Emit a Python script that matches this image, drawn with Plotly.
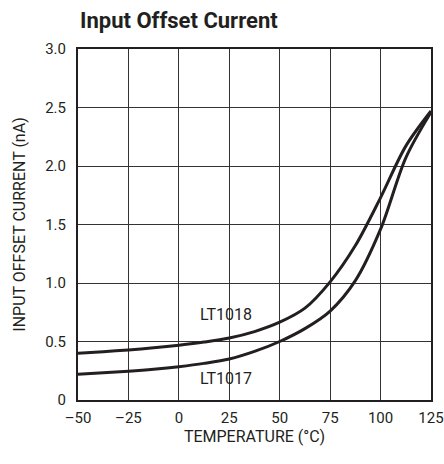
import plotly.graph_objects as go

temp = [-50, -37.5, -25, -12.5, 0, 12.5, 25, 37.5, 50, 62.5, 75, 87.5, 100, 112.5, 125]
lt1018 = [0.40, 0.413, 0.428, 0.446, 0.468, 0.495, 0.53, 0.585, 0.665, 0.785, 1.01, 1.32, 1.73, 2.17, 2.47]
lt1017 = [0.22, 0.232, 0.246, 0.263, 0.285, 0.313, 0.35, 0.415, 0.50, 0.61, 0.76, 1.02, 1.46, 2.07, 2.46]

x_ticks = [-50, -25, 0, 25, 50, 75, 100, 125]
x_tick_text = ["\u201350", "\u201325", "0", "25", "50", "75", "100", "125"]
y_ticks = [0, 0.5, 1.0, 1.5, 2.0, 2.5, 3.0]
y_tick_text = ["0", "0.5", "1.0", "1.5", "2.0", "2.5", "3.0"]

FONT = "Roboto, Liberation Sans, sans-serif"
INK = "#231f20"

fig = go.Figure()
for name, vals in [("LT1018", lt1018), ("LT1017", lt1017)]:
    fig.add_trace(go.Scatter(x=temp, y=vals, mode="lines", name=name,
                             line=dict(color=INK, width=3, shape="spline", smoothing=0.9),
                             showlegend=False, hoverinfo="skip"))

fig.add_annotation(x=23.5, y=0.73, text="LT1018", showarrow=False,
                   font=dict(family=FONT, size=16, color=INK))
fig.add_annotation(x=23.5, y=0.18, text="LT1017", showarrow=False,
                   font=dict(family=FONT, size=16, color=INK))

fig.update_layout(
    width=444, height=464,
    margin=dict(l=78, r=13, t=49, b=64),
    paper_bgcolor="white", plot_bgcolor="white",
    font=dict(family=FONT, size=15, color=INK),
    title=dict(text="<b>Input Offset Current</b>", x=80/444, xanchor="left",
               y=1 - 20/464, yanchor="middle",
               font=dict(family=FONT, size=22, color=INK)),
)
fig.update_xaxes(range=[-50, 125], tickvals=x_ticks, ticktext=x_tick_text,
                 automargin=False,
                 showgrid=True, gridcolor="#333333", gridwidth=1,
                 showline=True, mirror=True, linecolor=INK, linewidth=2,
                 zeroline=False, ticks="outside", ticklen=3, tickcolor="rgba(0,0,0,0)",
                 title=dict(text="TEMPERATURE (°C)", standoff=4,
                            font=dict(family=FONT, size=16, color=INK)),
                 tickfont=dict(family=FONT, size=15, color=INK))
fig.update_yaxes(range=[0, 3.0], tickvals=y_ticks, ticktext=y_tick_text,
                 automargin=False,
                 showgrid=True, gridcolor="#333333", gridwidth=1,
                 showline=True, mirror=True, linecolor=INK, linewidth=2,
                 zeroline=False, ticks="outside", ticklen=7, tickcolor="rgba(0,0,0,0)",
                 title=dict(text="INPUT OFFSET CURRENT (nA)", standoff=16,
                            font=dict(family=FONT, size=16, color=INK)),
                 tickfont=dict(family=FONT, size=15, color=INK))

fig.write_html("out.html", config={"displayModeBar": False},
               post_script="document.body.style.margin='0';document.body.style.overflow='hidden';")
